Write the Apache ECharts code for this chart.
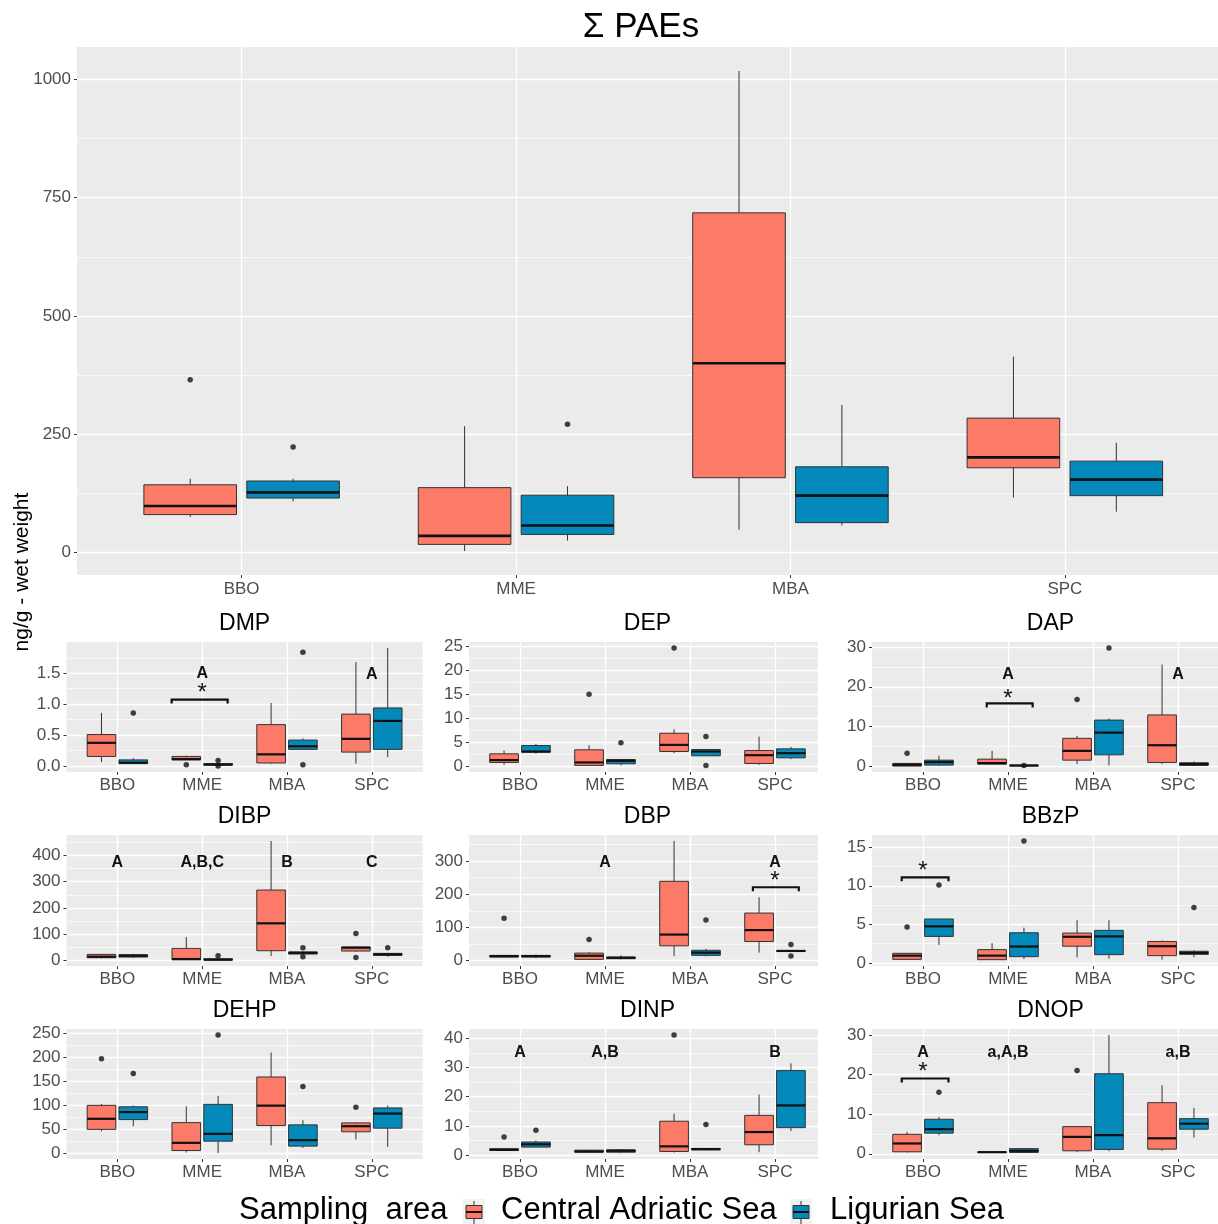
<!DOCTYPE html>
<html>
<head>
<meta charset="utf-8">
<title>Phthalate esters by sampling area</title>
<script src="https://cdn.jsdelivr.net/npm/echarts@6.0.0/dist/echarts.min.js"></script>
<style>
  html, body { margin: 0; padding: 0; background: #ffffff; }
  #chart { width: 1218px; height: 1224px; }
</style>
</head>
<body>
<div id="chart"></div>
<script>
// ---------------------------------------------------------------------------
// Data: five-number summaries [min, Q1, median, Q3, max] per sampling area
// (BBO, MME, MBA, SPC), outliers as [area index (1-4), value].
// ---------------------------------------------------------------------------
const categories = ['BBO', 'MME', 'MBA', 'SPC'];
const groupNames = ['Central Adriatic Sea', 'Ligurian Sea'];

// Σ PAEs
const sumPAEsTicks = ['0', '250', '500', '750', '1000'];
const sumPAEsAdriatic = [[75, 80, 98, 143, 156], [3, 17, 35, 137, 267], [48, 158, 400, 718, 1018], [116, 179, 201, 284, 414]];
const sumPAEsLigurian = [[108, 115, 127, 151, 156], [25, 38, 57, 121, 140], [57, 63, 120, 181, 312], [86, 120, 154, 193, 232]];
const sumPAEsAdriaticOut = [[1, 365]];
const sumPAEsLigurianOut = [[1, 223], [2, 271]];

// DMP
const dmpTicks = ['0.0', '0.5', '1.0', '1.5'];
const dmpAdriatic = [[0.065, 0.156, 0.376, 0.51, 0.86], [0.10, 0.10, 0.113, 0.156, 0.17], [0.04, 0.05, 0.19, 0.67, 1.02], [0.04, 0.226, 0.44, 0.84, 1.68]];
const dmpLigurian = [[0.04, 0.04, 0.054, 0.10, 0.13], [0.01, 0.015, 0.025, 0.04, 0.045], [0.27, 0.27, 0.32, 0.42, 0.45], [0.145, 0.27, 0.73, 0.94, 1.91]];
const dmpAdriaticOut = [[2, 0.02]];
const dmpLigurianOut = [[1, 0.86], [2, 0.09], [2, 0.0], [3, 1.84], [3, 0.02]];
const dmpLetters = [[2, 1.5, 'A'], [4, 1.48, 'A']];
const dmpStars = [[2, 1.25]];
const dmpBrackets = [[1.64, 2.30, 1.075]];

// DEP
const depTicks = ['0', '5', '10', '15', '20', '25'];
const depAdriatic = [[0.28, 0.76, 1.25, 2.56, 3.25], [0, 0.14, 0.76, 3.4, 4.36], [2.7, 3.05, 4.43, 6.86, 7.7], [0.28, 0.55, 2.28, 3.25, 6.16]];
const depLigurian = [[2.56, 2.9, 3.05, 4.3, 4.64], [0.14, 0.48, 1.1, 1.38, 1.45], [2.15, 2.15, 3.05, 3.46, 3.46], [1.45, 1.73, 2.7, 3.6, 4.0]];
const depAdriaticOut = [[2, 15.0], [3, 24.7]];
const depLigurianOut = [[2, 4.9], [3, 6.16], [3, 0.14]];

// DAP
const dapTicks = ['0', '10', '20', '30'];
const dapAdriatic = [[0, 0, 0.33, 0.67, 0.75], [0.5, 0.5, 0.75, 1.75, 3.84], [0.5, 1.5, 3.84, 7.0, 7.6], [0.5, 0.92, 5.26, 12.9, 25.6]];
const dapLigurian = [[0, 0.25, 1.0, 1.5, 2.6], [0, 0.05, 0.15, 0.25, 0.3], [0.17, 2.84, 8.44, 11.6, 12.0], [0, 0.17, 0.5, 0.84, 1.17]];
const dapAdriaticOut = [[1, 3.26], [3, 16.8]];
const dapLigurianOut = [[2, 0.17], [3, 29.8]];
const dapLetters = [[2, 23.1, 'A'], [4, 23.1, 'A']];
const dapStars = [[2, 18.1]];
const dapBrackets = [[1.75, 2.29, 15.8]];

// DIBP
const dibpTicks = ['0', '100', '200', '300', '400'];
const dibpAdriatic = [[6.4, 9, 12.8, 21.7, 23], [0, 1.3, 3.8, 44.7, 88], [15.3, 35.8, 140.6, 268, 456], [32, 34.5, 47.3, 49.8, 51]];
const dibpLigurian = [[7.7, 11.5, 16.6, 20.4, 23], [0, 0, 1.3, 5, 5], [20.4, 23, 28, 30.7, 32], [12.8, 17.9, 21.7, 25.6, 26.8]];
const dibpAdriaticOut = [[4, 102], [4, 10.2]];
const dibpLigurianOut = [[2, 16.6], [3, 47.3], [3, 12.8], [4, 47.3]];
const dibpLetters = [[1, 373, 'A'], [2, 373, 'A,B,C'], [3, 373, 'B'], [4, 373, 'C']];

// DBP
const dbpTicks = ['0', '100', '200', '300'];
const dbpAdriatic = [[8, 10, 13, 15, 16], [1, 3, 14, 22, 25], [13, 44, 78, 239, 361], [23.4, 57, 91.6, 143, 191]];
const dbpLigurian = [[8, 10, 13, 15, 18], [3, 5, 8, 10, 15], [12, 15.3, 23.4, 30.5, 35], [26.5, 27.5, 28.5, 29.5, 30.5]];
const dbpAdriaticOut = [[1, 127], [2, 63]];
const dbpLigurianOut = [[3, 122], [4, 48], [4, 13]];
const dbpLetters = [[2, 297, 'A'], [4, 297, 'A']];
const dbpStars = [[4, 254]];
const dbpBrackets = [[3.74, 4.28, 221]];

// BBzP
const bbzpTicks = ['0', '5', '10', '15'];
const bbzpAdriatic = [[0.44, 0.48, 0.96, 1.26, 1.3], [0.39, 0.44, 0.96, 1.74, 2.57], [0.74, 2.18, 3.4, 3.88, 5.54], [0.44, 0.96, 2.18, 2.79, 2.92]];
const bbzpLigurian = [[2.35, 3.45, 4.75, 5.7, 5.7], [0.52, 0.83, 2.14, 3.92, 4.58], [0.57, 1.09, 3.45, 4.23, 5.54], [0.74, 1.13, 1.31, 1.53, 1.66]];
const bbzpAdriaticOut = [[1, 4.67]];
const bbzpLigurianOut = [[1, 10.1], [2, 15.8], [4, 7.2]];
const bbzpStars = [[1, 12.5]];
const bbzpBrackets = [[0.75, 1.30, 11.1]];

// DEHP
const dehpTicks = ['0', '50', '100', '150', '200', '250'];
const dehpAdriatic = [[46, 50, 72, 100, 103], [2, 6, 22, 64, 98], [17, 58, 99.4, 159, 210], [29, 45, 56.6, 63.5, 65]];
const dehpLigurian = [[56.6, 70.4, 86, 97, 100], [0.7, 25.5, 40.7, 102, 119.5], [11.7, 15.2, 27.6, 59.4, 69], [13.8, 52.5, 82.9, 94.6, 99.4]];
const dehpAdriaticOut = [[1, 197], [4, 96]];
const dehpLigurianOut = [[1, 166], [2, 246.5], [3, 139]];

// DINP
const dinpTicks = ['0', '10', '20', '30', '40'];
const dinpAdriatic = [[1.4, 1.6, 1.8, 2.2, 2.4], [0.8, 1.0, 1.26, 1.7, 1.8], [0.9, 1.26, 3.0, 11.6, 14.2], [1.0, 3.55, 7.9, 13.6, 20.7]];
const dinpLigurian = [[2.5, 2.75, 3.7, 4.5, 5.0], [0.7, 1.0, 1.5, 1.8, 2.1], [1.6, 1.8, 2.06, 2.3, 2.4], [8.25, 9.4, 17.0, 28.9, 31.4]];
const dinpAdriaticOut = [[1, 6.2], [3, 41.1]];
const dinpLigurianOut = [[1, 8.5], [3, 10.5]];
const dinpLetters = [[1, 35, 'A'], [2, 35, 'A,B'], [4, 35, 'B']];

// DNOP
const dnopTicks = ['0', '10', '20', '30'];
const dnopAdriatic = [[0.33, 0.5, 2.6, 4.9, 5.5], [0.3, 0.35, 0.4, 0.45, 0.5], [0.42, 0.75, 4.26, 6.85, 6.85], [0.75, 1.17, 3.9, 12.9, 17.3]];
const dnopLigurian = [[4.7, 5.2, 6.2, 8.7, 9.3], [0.17, 0.33, 0.75, 1.3, 1.4], [0.67, 1.1, 4.7, 20.2, 30], [4.1, 6.2, 7.6, 8.86, 11.6]];
const dnopAdriaticOut = [[3, 21]];
const dnopLigurianOut = [[1, 15.5]];
const dnopLetters = [[1, 25.6, 'A'], [2, 25.6, 'a,A,B'], [4, 25.6, 'a,B']];
const dnopStars = [[1, 21.8]];
const dnopBrackets = [[0.75, 1.30, 19.0]];

// ---------------------------------------------------------------------------
// Panel assembly
// ---------------------------------------------------------------------------
const panels = [
  { title: 'Σ PAEs', ticks: sumPAEsTicks, adriatic: sumPAEsAdriatic, ligurian: sumPAEsLigurian, adriaticOut: sumPAEsAdriaticOut, ligurianOut: sumPAEsLigurianOut },
  { title: 'DMP', ticks: dmpTicks, adriatic: dmpAdriatic, ligurian: dmpLigurian, adriaticOut: dmpAdriaticOut, ligurianOut: dmpLigurianOut, letters: dmpLetters, stars: dmpStars, brackets: dmpBrackets },
  { title: 'DEP', ticks: depTicks, adriatic: depAdriatic, ligurian: depLigurian, adriaticOut: depAdriaticOut, ligurianOut: depLigurianOut },
  { title: 'DAP', ticks: dapTicks, adriatic: dapAdriatic, ligurian: dapLigurian, adriaticOut: dapAdriaticOut, ligurianOut: dapLigurianOut, letters: dapLetters, stars: dapStars, brackets: dapBrackets },
  { title: 'DIBP', ticks: dibpTicks, adriatic: dibpAdriatic, ligurian: dibpLigurian, adriaticOut: dibpAdriaticOut, ligurianOut: dibpLigurianOut, letters: dibpLetters },
  { title: 'DBP', ticks: dbpTicks, adriatic: dbpAdriatic, ligurian: dbpLigurian, adriaticOut: dbpAdriaticOut, ligurianOut: dbpLigurianOut, letters: dbpLetters, stars: dbpStars, brackets: dbpBrackets },
  { title: 'BBzP', ticks: bbzpTicks, adriatic: bbzpAdriatic, ligurian: bbzpLigurian, adriaticOut: bbzpAdriaticOut, ligurianOut: bbzpLigurianOut, stars: bbzpStars, brackets: bbzpBrackets },
  { title: 'DEHP', ticks: dehpTicks, adriatic: dehpAdriatic, ligurian: dehpLigurian, adriaticOut: dehpAdriaticOut, ligurianOut: dehpLigurianOut },
  { title: 'DINP', ticks: dinpTicks, adriatic: dinpAdriatic, ligurian: dinpLigurian, adriaticOut: dinpAdriaticOut, ligurianOut: dinpLigurianOut, letters: dinpLetters },
  { title: 'DNOP', ticks: dnopTicks, adriatic: dnopAdriatic, ligurian: dnopLigurian, adriaticOut: dnopAdriaticOut, ligurianOut: dnopLigurianOut, letters: dnopLetters, stars: dnopStars, brackets: dnopBrackets }
];

// ---------------------------------------------------------------------------
// Layout and style
// ---------------------------------------------------------------------------
const FONT = '"Liberation Sans", Arial, Helvetica, sans-serif';
const FILLS = ['#FC7A68', '#0389BA'];
const PANEL_BG = '#EBEBEB';
const BOX_W = 0.3375;      // box width in category units
const DODGE = 0.1875;      // half distance between the two dodged boxes
const X_MIN = 0.4;

const colLeft = [66.5, 469, 872];
const colWidth = [356.2, 349, 357];
const colXMax = [4.6, 0.4 + 349 / 85, 4.6];
const rowTop = [642, 835, 1029];
const rowHeight = [130, 131, 130];

const frames = [{ left: 77, top: 47, width: 1152.5, height: 528, xMax: 4.6, big: true }];
for (let r = 0; r < 3; r++) {
  for (let c = 0; c < 3; c++) {
    frames.push({ left: colLeft[c], top: rowTop[r], width: colWidth[c], height: rowHeight[r], xMax: colXMax[c], big: false });
  }
}

function valueRange(p) {
  const all = [].concat(
    ...p.adriatic, ...p.ligurian,
    p.adriaticOut.map(d => d[1]), p.ligurianOut.map(d => d[1])
  );
  const lo = Math.min(...all), hi = Math.max(...all);
  const pad = (hi - lo) * 0.05;
  return [lo - pad, hi + pad];
}

function minorBreaks(major, lo, hi) {
  const step = major[1] - major[0];
  const out = [];
  for (let v = major[0] - step / 2; v <= hi; v += step) {
    if (v >= lo) out.push(v);
  }
  return out;
}

function boxRenderer(offset, fill, medianWidth) {
  return function (params, api) {
    const x = api.value(0) + offset;
    const pMin = api.coord([x, api.value(1)]);
    const pQ1 = api.coord([x, api.value(2)]);
    const pMed = api.coord([x, api.value(3)]);
    const pQ3 = api.coord([x, api.value(4)]);
    const pMax = api.coord([x, api.value(5)]);
    const half = api.size([BOX_W, 0])[0] / 2;
    const cx = pMed[0];
    const whisker = { stroke: '#333333', lineWidth: 1 };
    return {
      type: 'group',
      children: [
        { type: 'line', shape: { x1: cx, y1: pMin[1], x2: cx, y2: pQ1[1] }, style: whisker },
        { type: 'line', shape: { x1: cx, y1: pQ3[1], x2: cx, y2: pMax[1] }, style: whisker },
        { type: 'rect', shape: { x: cx - half, y: pQ3[1], width: 2 * half, height: Math.max(pQ1[1] - pQ3[1], 0.5) },
          style: { fill: fill, stroke: '#333333', lineWidth: 1 } },
        { type: 'line', shape: { x1: cx - half, y1: pMed[1], x2: cx + half, y2: pMed[1] },
          style: { stroke: '#111111', lineWidth: medianWidth } }
      ]
    };
  };
}

function textRenderer(list, font, lift) {
  return function (params, api) {
    const pt = api.coord([api.value(0), api.value(1)]);
    return {
      type: 'text',
      x: pt[0],
      y: pt[1] + lift,
      style: { text: list[params.dataIndex][2], font: font, fill: '#111111', textAlign: 'center', textVerticalAlign: 'middle' }
    };
  };
}

function bracketRenderer(params, api) {
  const a = api.coord([api.value(0), api.value(2)]);
  const b = api.coord([api.value(1), api.value(2)]);
  return {
    type: 'polyline',
    shape: { points: [[a[0], a[1] + 4], [a[0], a[1]], [b[0], b[1]], [b[0], b[1] + 4]] },
    style: { stroke: '#111111', lineWidth: 2.2, fill: null }
  };
}

const grids = [], xAxes = [], yAxes = [], series = [], graphics = [];

panels.forEach((p, i) => {
  const f = frames[i];
  const [yMin, yMax] = valueRange(p);
  const major = p.ticks.map(Number);
  const minor = minorBreaks(major, yMin, yMax);
  const labelSize = 17;

  grids.push({
    left: f.left, top: f.top, width: f.width, height: f.height,
    show: true, backgroundColor: PANEL_BG, borderWidth: 0, containLabel: false, outerBoundsMode: 'none'
  });

  xAxes.push({
    gridIndex: i, type: 'value', min: X_MIN, max: f.xMax,
    axisLine: { show: false, onZero: false },
    axisTick: { show: true, length: 3, customValues: [1, 2, 3, 4], lineStyle: { color: '#333333', width: 1 } },
    axisLabel: {
      customValues: [1, 2, 3, 4], margin: f.big ? 6 : 5,
      formatter: v => categories[Math.round(v) - 1],
      color: '#4D4D4D', fontSize: labelSize, fontFamily: FONT
    },
    splitLine: { show: true, lineStyle: { color: '#FFFFFF', width: 1.3 } }
  });

  yAxes.push({
    gridIndex: i, type: 'value', min: yMin, max: yMax,
    axisLine: { show: false, onZero: false },
    axisTick: { show: true, length: 3, customValues: major, lineStyle: { color: '#333333', width: 1 } },
    axisLabel: {
      customValues: major, margin: 6,
      formatter: v => p.ticks[major.findIndex(t => Math.abs(t - v) < 1e-9)],
      color: '#4D4D4D', fontSize: labelSize, fontFamily: FONT
    },
    splitLine: { show: true, lineStyle: { color: '#FFFFFF', width: 1.3 } }
  });
  yAxes.push({
    gridIndex: i, type: 'value', min: yMin, max: yMax, position: 'left', offset: 0,
    axisLine: { show: false, onZero: false },
    axisTick: { show: false, customValues: minor },
    axisLabel: { show: false },
    splitLine: { show: true, lineStyle: { color: '#FFFFFF', width: 0.7 } }
  });

  const yIdx = 2 * i;
  const medianW = f.big ? 2.6 : 2.2;
  [p.adriatic, p.ligurian].forEach((boxes, g) => {
    const offset = g === 0 ? -DODGE : DODGE;
    series.push({
      type: 'custom', name: groupNames[g], xAxisIndex: i, yAxisIndex: yIdx, z: 3, silent: true,
      renderItem: boxRenderer(offset, FILLS[g], medianW),
      encode: { x: 0, y: [1, 2, 3, 4, 5] },
      data: boxes.map((v, k) => [k + 1].concat(v))
    });
  });
  [p.adriaticOut, p.ligurianOut].forEach((pts, g) => {
    const offset = g === 0 ? -DODGE : DODGE;
    series.push({
      type: 'scatter', xAxisIndex: i, yAxisIndex: yIdx, z: 4, silent: true,
      symbol: 'circle', symbolSize: 5.5, itemStyle: { color: '#111111' },
      data: pts.map(d => [d[0] + offset, d[1]])
    });
  });
  if (p.letters) {
    series.push({
      type: 'custom', xAxisIndex: i, yAxisIndex: yIdx, z: 5, silent: true,
      renderItem: textRenderer(p.letters, 'bold 16px ' + FONT, 0),
      data: p.letters.map(d => [d[0], d[1]])
    });
  }
  if (p.stars) {
    const starList = p.stars.map(d => [d[0], d[1], '*']);
    series.push({
      type: 'custom', xAxisIndex: i, yAxisIndex: yIdx, z: 5, silent: true,
      renderItem: textRenderer(starList, '24px ' + FONT, 5),
      data: p.stars.map(d => [d[0], d[1]])
    });
  }
  if (p.brackets) {
    series.push({
      type: 'custom', xAxisIndex: i, yAxisIndex: yIdx, z: 5, silent: true,
      renderItem: bracketRenderer,
      encode: { x: [0, 1], y: 2 },
      data: p.brackets
    });
  }

  // panel title, centred over the full (uncropped) panel width
  const unit = f.width / (f.xMax - X_MIN);
  const cx = f.left + unit * (4.6 - X_MIN) / 2;
  graphics.push({
    type: 'text', x: f.big ? 641 : cx, y: f.big ? 27 : f.top - 18.5, z: 10,
    style: { text: p.title, font: (f.big ? '35px ' : '23px ') + FONT, fill: '#000000', textAlign: 'center', textVerticalAlign: 'middle' }
  });
});

// shared y-axis title
graphics.push({
  type: 'text', x: 22, y: 572, rotation: Math.PI / 2, z: 10,
  style: { text: 'ng/g - wet weight', font: '21px ' + FONT, fill: '#000000', textAlign: 'center', textVerticalAlign: 'middle' }
});

// legend: title, boxplot key glyphs and labels
function legendKey(x, fill) {
  return {
    type: 'group', x: x, y: 1199, z: 10,
    children: [
      { type: 'rect', shape: { x: 0, y: 0, width: 22, height: 25 }, style: { fill: '#F2F2F2' } },
      { type: 'line', shape: { x1: 11, y1: 2, x2: 11, y2: 25 }, style: { stroke: '#333333', lineWidth: 1 } },
      { type: 'rect', shape: { x: 3, y: 6.5, width: 16, height: 13 }, style: { fill: fill, stroke: '#333333', lineWidth: 1 } },
      { type: 'line', shape: { x1: 3, y1: 13, x2: 19, y2: 13 }, style: { stroke: '#111111', lineWidth: 2 } }
    ]
  };
}
const legendFont = '31px ' + FONT;
graphics.push(
  { type: 'text', x: 239, y: 1210, z: 10, style: { text: 'Sampling  area', font: legendFont, fill: '#000000', textAlign: 'left', textVerticalAlign: 'middle' } },
  legendKey(463, FILLS[0]),
  { type: 'text', x: 501, y: 1210, z: 10, style: { text: groupNames[0], font: legendFont, fill: '#000000', textAlign: 'left', textVerticalAlign: 'middle' } },
  legendKey(790, FILLS[1]),
  { type: 'text', x: 830, y: 1210, z: 10, style: { text: groupNames[1], font: legendFont, fill: '#000000', textAlign: 'left', textVerticalAlign: 'middle' } }
);

const chart = echarts.init(document.getElementById('chart'), null, { renderer: 'canvas' });
chart.setOption({
  backgroundColor: '#FFFFFF',
  animation: false,
  textStyle: { fontFamily: FONT },
  grid: grids,
  xAxis: xAxes,
  yAxis: yAxes,
  series: series,
  graphic: graphics
});
</script>
</body>
</html>
